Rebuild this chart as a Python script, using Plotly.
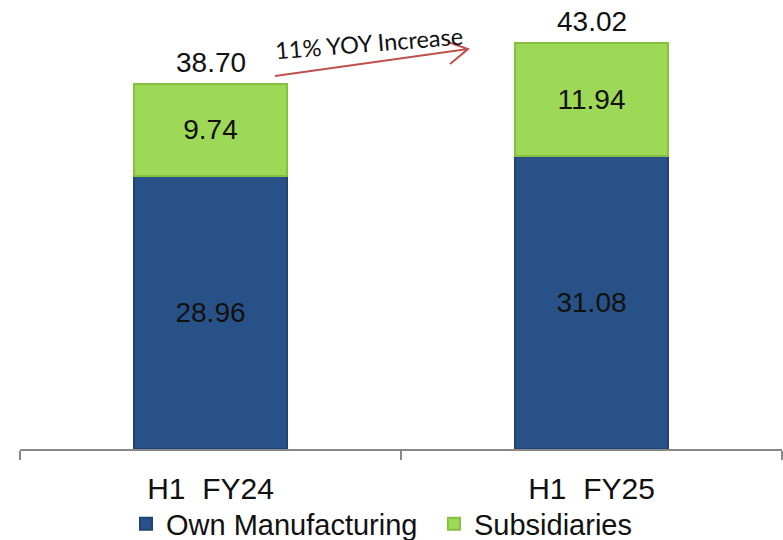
import plotly.graph_objects as go

categories = ["H1  FY24", "H1  FY25"]
own_manufacturing = [28.96, 31.08]
subsidiaries = [9.74, 11.94]
totals = [38.70, 43.02]
series_names = ["Own Manufacturing", "Subsidiaries"]
annotation_text = "11% YOY Increase"

BLUE = "#285287"
BLUE_EDGE = "#1f4373"
GREEN = "#9ed857"
GREEN_EDGE = "#86bf42"
FONT = "Liberation Sans, Arial, sans-serif"

W, H = 783, 540
L, R, T, B = 20, 1, 0, 91
PW, PH = W - L - R, H - T - B
YMAX = PH / 9.435

fig = go.Figure()
fig.add_trace(go.Bar(
    x=categories, y=own_manufacturing, name=series_names[0],
    marker=dict(color=BLUE, line=dict(color=BLUE_EDGE, width=2)),
    text=[f"{v:.2f}" for v in own_manufacturing], textposition="inside",
    insidetextanchor="middle", textfont=dict(color="#111111", size=28, family=FONT),
    width=0.4,
))
fig.add_trace(go.Bar(
    x=categories, y=subsidiaries, name=series_names[1],
    marker=dict(color=GREEN, line=dict(color=GREEN_EDGE, width=2)),
    text=[f"{v:.2f}" for v in subsidiaries], textposition="inside",
    insidetextanchor="middle", textfont=dict(color="#111111", size=28, family=FONT),
    width=0.4,
))

# total labels above bars
for c, t in zip(categories, totals):
    fig.add_annotation(x=c, y=t, text=f"{t:.2f}", showarrow=False, yanchor="bottom",
                       yshift=4, font=dict(size=28, color="#111111", family=FONT))

def px2paper(px, py):
    return (px - L) / PW, (H - B - py) / PH

# arrow between totals (decorative)
tx, ty = px2paper(275, 76)
hx, hy = px2paper(468, 49)
ux, uy = px2paper(448, 42)
lx, ly = px2paper(450, 64)
fig.add_shape(type="path", xref="paper", yref="paper",
              path=f"M {tx} {ty} L {hx} {hy} M {ux} {uy} L {hx} {hy} L {lx} {ly}",
              line=dict(color="#c0504d", width=2))

ax_, ay_ = px2paper(369, 20)
fig.add_annotation(xref="paper", yref="paper", x=ax_, y=ay_, text=annotation_text,
                   showarrow=False, textangle=-4.5,
                   font=dict(size=23.5, color="#111111", family="Lato, Open Sans, sans-serif"))

lgx, _ = px2paper(126, 0)
fig.update_layout(
    barmode="stack",
    width=W, height=H,
    margin=dict(l=L, r=R, t=T, b=B, autoexpand=False),
    plot_bgcolor="white", paper_bgcolor="white",
    showlegend=True,
    legend=dict(orientation="h", x=lgx, xanchor="left", y=-0.11, yanchor="top",
                font=dict(size=29, family=FONT, color="#111111"),
                bgcolor="rgba(0,0,0,0)",
                itemwidth=30, entrywidth=263, traceorder="normal"),
    font=dict(family=FONT),
)
fig.update_xaxes(
    showline=True, linecolor="#888888", linewidth=2,
    ticks="outside", tickson="boundaries", ticklen=9, tickcolor="#888888", tickwidth=2,
    tickfont=dict(size=30, color="#111111", family=FONT),
    ticklabelstandoff=12, range=[-0.5, 1.5],
)
fig.update_yaxes(range=[0, YMAX], visible=False, showgrid=False)

fig.write_html("out.html", config={"displayModeBar": False},
               post_script="document.body.style.margin='0';document.body.style.overflow='hidden';")
